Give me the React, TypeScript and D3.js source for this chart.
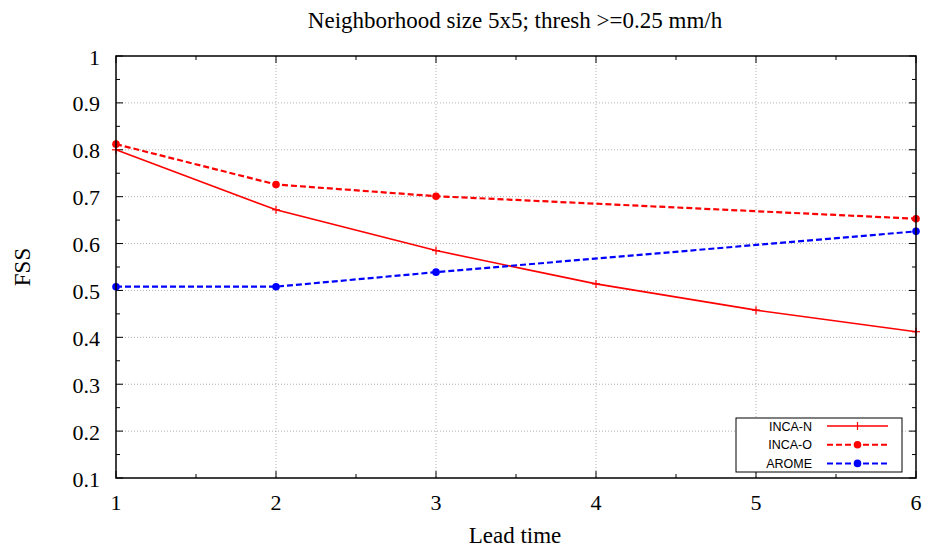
import React from "react";
import * as d3 from "d3";

const title = "Neighborhood size 5x5; thresh >=0.25 mm/h";
const xLabel = "Lead time";
const yLabel = "FSS";
const xTicks = [1, 2, 3, 4, 5, 6];
const yTicks = [0.1, 0.2, 0.3, 0.4, 0.5, 0.6, 0.7, 0.8, 0.9, 1];
const incaNX = [1, 2, 3, 4, 5, 6];
const incaNY = [0.8, 0.672, 0.585, 0.514, 0.458, 0.412];
const incaOX = [1, 2, 3, 6];
const incaOY = [0.812, 0.726, 0.701, 0.653];
const aromeX = [1, 2, 3, 6];
const aromeY = [0.508, 0.508, 0.539, 0.626];

const W = 928, H = 554;
const L = 116, R = 916, T = 56, B = 478;

export default function App() {
  const x = d3.scaleLinear().domain([1, 6]).range([L, R]);
  const y = d3.scaleLinear().domain([0.1, 1]).range([B, T]);
  const line = d3.line<[number, number]>().x(d => x(d[0])).y(d => y(d[1]));
  const nPts: [number, number][] = incaNX.map((v, i) => [v, incaNY[i]]);
  const oPts: [number, number][] = incaOX.map((v, i) => [v, incaOY[i]]);
  const aPts: [number, number][] = aromeX.map((v, i) => [v, aromeY[i]]);
  const xMinor = d3.range(1.5, 6, 1);
  const yMinor = d3.range(0.15, 1, 0.1);
  const serif = "'Liberation Serif', 'DejaVu Serif', serif";
  const sans = "'Liberation Sans', Arial, sans-serif";
  const legendRows = [
    { name: "INCA-N", color: "#ff0000", dash: "none", marker: "plus" },
    { name: "INCA-O", color: "#ff0000", dash: "6,3", marker: "dot" },
    { name: "AROME", color: "#0000ff", dash: "6,3", marker: "dot" },
  ];
  return (
    <svg width={W} height={H} style={{ position: "absolute", left: 0, top: 0, background: "#fff" }}>
      <rect x={0} y={0} width={W} height={H} fill="#fff" />
      {/* grid */}
      {xTicks.slice(1, -1).map(t => (
        <line key={"gx" + t} x1={x(t)} x2={x(t)} y1={T} y2={B} stroke="#b0b0b0" strokeWidth={1} strokeDasharray="1,2" />
      ))}
      {yTicks.slice(1, -1).map(t => (
        <line key={"gy" + t} x1={L} x2={R} y1={y(t)} y2={y(t)} stroke="#b0b0b0" strokeWidth={1} strokeDasharray="1,2" />
      ))}
      {/* ticks */}
      {xTicks.map(t => (
        <g key={"tx" + t}>
          <line x1={x(t)} x2={x(t)} y1={B} y2={B - 7} stroke="#000" strokeWidth={1} />
          <line x1={x(t)} x2={x(t)} y1={T} y2={T + 7} stroke="#000" strokeWidth={1} />
          <text x={x(t)} y={510} textAnchor="middle" fontFamily={serif} fontSize={22}>{t}</text>
        </g>
      ))}
      {xMinor.map(t => (
        <g key={"mx" + t}>
          <line x1={x(t)} x2={x(t)} y1={B} y2={B - 4} stroke="#000" strokeWidth={1} />
          <line x1={x(t)} x2={x(t)} y1={T} y2={T + 4} stroke="#000" strokeWidth={1} />
        </g>
      ))}
      {yTicks.map(t => (
        <g key={"ty" + t}>
          <line x1={L} x2={L + 7} y1={y(t)} y2={y(t)} stroke="#000" strokeWidth={1} />
          <line x1={R} x2={R - 7} y1={y(t)} y2={y(t)} stroke="#000" strokeWidth={1} />
          <text x={L - 16} y={y(t) + 8.5} textAnchor="end" fontFamily={serif} fontSize={22}>{d3.format("~g")(t)}</text>
        </g>
      ))}
      {yMinor.map(t => (
        <g key={"my" + t}>
          <line x1={L} x2={L + 4} y1={y(t)} y2={y(t)} stroke="#000" strokeWidth={1} />
          <line x1={R} x2={R - 4} y1={y(t)} y2={y(t)} stroke="#000" strokeWidth={1} />
        </g>
      ))}
      {/* series */}
      <path d={line(nPts) || ""} fill="none" stroke="#ff0000" strokeWidth={1.6} />
      {nPts.map((p, i) => (
        <g key={"np" + i} stroke="#ff0000" strokeWidth={1.2}>
          <line x1={x(p[0]) - 4} x2={x(p[0]) + 4} y1={y(p[1])} y2={y(p[1])} />
          <line x1={x(p[0])} x2={x(p[0])} y1={y(p[1]) - 4} y2={y(p[1]) + 4} />
        </g>
      ))}
      <path d={line(oPts) || ""} fill="none" stroke="#ff0000" strokeWidth={2.2} strokeDasharray="6,3" />
      {oPts.map((p, i) => (
        <circle key={"op" + i} cx={x(p[0])} cy={y(p[1])} r={3.8} fill="#ff0000" />
      ))}
      <path d={line(aPts) || ""} fill="none" stroke="#0000ff" strokeWidth={2.2} strokeDasharray="6,3" />
      {aPts.map((p, i) => (
        <circle key={"ap" + i} cx={x(p[0])} cy={y(p[1])} r={3.8} fill="#0000ff" />
      ))}
      {/* frame */}
      <rect x={L} y={T} width={R - L} height={B - T} fill="none" stroke="#000" strokeWidth={1.5} />
      {/* legend */}
      <rect x={736} y={418} width={166} height={54} fill="#fff" stroke="#000" strokeWidth={1} />
      {legendRows.map((r, i) => {
        const ly = 426 + i * 18.7;
        return (
          <g key={r.name}>
            <text x={812} y={ly + 4.5} textAnchor="end" fontFamily={sans} fontSize={12.5}>{r.name}</text>
            <line x1={827} x2={888} y1={ly} y2={ly} stroke={r.color} strokeWidth={r.dash === "none" ? 1.6 : 2} strokeDasharray={r.dash} />
            {r.marker === "plus" ? (
              <g stroke={r.color} strokeWidth={1.2}>
                <line x1={857.5} x2={857.5} y1={ly - 4} y2={ly + 4} />
              </g>
            ) : (
              <circle cx={857.5} cy={ly} r={3.8} fill={r.color} />
            )}
          </g>
        );
      })}
      {/* labels */}
      <text x={515} y={28} textAnchor="middle" fontFamily={serif} fontSize={23}>{title}</text>
      <text x={515} y={543} textAnchor="middle" fontFamily={serif} fontSize={23}>{xLabel}</text>
      <text transform={`translate(29.5,${(T + B) / 2}) rotate(-90)`} textAnchor="middle" fontFamily={serif} fontSize={23}>{yLabel}</text>
    </svg>
  );
}
